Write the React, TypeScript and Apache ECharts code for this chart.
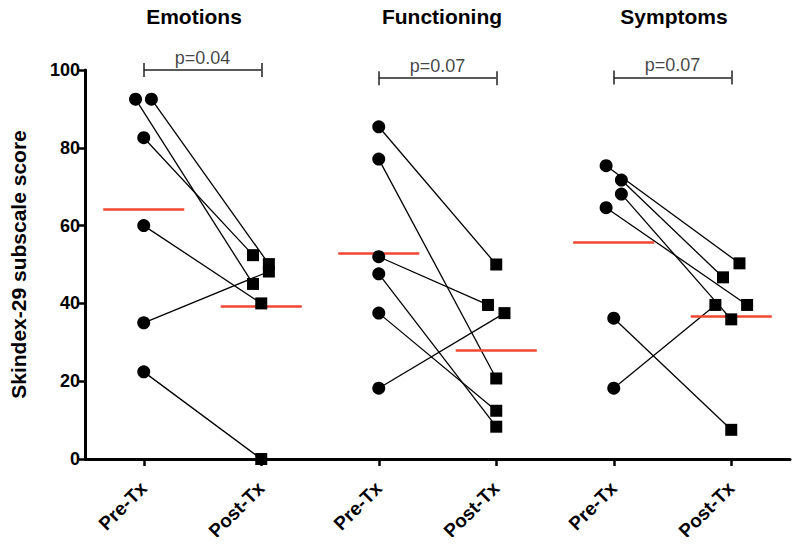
import React, { useEffect, useRef } from "react";
import * as echarts from "echarts";

const FONT = "'Liberation Sans', Arial, Helvetica, sans-serif";

const categories = ["Pre-Tx", "Post-Tx"];
const panelTitles = ["Emotions", "Functioning", "Symptoms"];
const pValues = ["p=0.04", "p=0.07", "p=0.07"];
const bracketLevels = [100, 97.9, 98.1];

// Emotions
const emotionsPre = [92.5, 92.5, 82.6, 60.0, 35.0, 22.4];
const emotionsPost = [45.0, 50.1, 52.4, 40.0, 48.2, 0.0];
const emotionsPreJitter = [-0.07, 0.065, 0, 0, 0, 0];
const emotionsPostJitter = [-0.07, 0.065, -0.07, 0, 0.065, 0];

// Functioning
const functioningPre = [85.4, 77.1, 52.0, 47.6, 37.5, 18.2];
const functioningPost = [50.0, 20.7, 39.6, 8.3, 12.4, 37.5];
const functioningPreJitter = [0, 0, 0, 0, 0, 0];
const functioningPostJitter = [0, 0, -0.07, 0, 0, 0.07];

// Symptoms
const symptomsPre = [75.4, 71.7, 68.1, 64.6, 36.2, 18.2];
const symptomsPost = [50.3, 46.7, 35.9, 39.6, 7.5, 39.6];
const symptomsPreJitter = [-0.065, 0.065, 0.065, -0.065, 0, 0];
const symptomsPostJitter = [0.07, -0.07, 0, 0.135, 0, -0.135];

const panels = [
  { pre: emotionsPre, post: emotionsPost, preJ: emotionsPreJitter, postJ: emotionsPostJitter },
  { pre: functioningPre, post: functioningPost, preJ: functioningPreJitter, postJ: functioningPostJitter },
  { pre: symptomsPre, post: symptomsPost, preJ: symptomsPreJitter, postJ: symptomsPostJitter },
];

const mean = (a: number[]) => a.reduce((s, v) => s + v, 0) / a.length;

export default function App() {
  const ref = useRef<HTMLDivElement>(null);

  useEffect(() => {
    if (!ref.current) return;
    const chart = echarts.init(ref.current, null, { renderer: "svg" });

    const pairSegments: any[] = [];
    const preDots: number[][] = [];
    const postDots: number[][] = [];
    const meanSegments: any[] = [];
    const bracketSegments: any[] = [];
    const pLabelData: any[] = [];
    const halfMean = 0.345;
    const capH = 1.8;

    panels.forEach((p, i) => {
      const xPre = 2 * i;
      const xPost = 2 * i + 1;
      p.pre.forEach((v, k) => {
        const a = [xPre + p.preJ[k], v];
        const b = [xPost + p.postJ[k], p.post[k]];
        pairSegments.push({ coords: [a, b] });
        preDots.push(a);
        postDots.push(b);
      });
      const mPre = mean(p.pre);
      const mPost = mean(p.post);
      meanSegments.push({ coords: [[xPre - halfMean, mPre], [xPre + halfMean, mPre]] });
      meanSegments.push({ coords: [[xPost - halfMean, mPost], [xPost + halfMean, mPost]] });
      const lvl = bracketLevels[i];
      bracketSegments.push({ coords: [[xPre, lvl], [xPost, lvl]] });
      bracketSegments.push({ coords: [[xPre, lvl - capH], [xPre, lvl + capH]] });
      bracketSegments.push({ coords: [[xPost, lvl - capH], [xPost, lvl + capH]] });
      pLabelData.push({ value: [(xPre + xPost) / 2, lvl], name: pValues[i] });
    });

    const ticks = [0, 1, 2, 3, 4, 5];

    const option: any = {
      animation: false,
      textStyle: { fontFamily: FONT },
      grid: { left: 83, right: 10, top: 70, bottom: 86, containLabel: false },
      xAxis: {
        type: "value",
        min: -0.5,
        max: 5.5,
        splitLine: { show: false },
        axisLine: { show: true, onZero: false, lineStyle: { color: "#000", width: 3 } },
        axisTick: { show: true, customValues: ticks, length: 7, lineStyle: { color: "#000", width: 2.5 } },
        axisLabel: {
          show: true,
          customValues: ticks,
          formatter: (v: number) => categories[Math.round(v) % 2],
          rotate: 45,
          margin: 26,
          fontSize: 19,
          fontWeight: "bold",
          color: "#000",
          fontFamily: FONT,
        },
      },
      yAxis: {
        type: "value",
        min: 0,
        max: 100,
        interval: 20,
        splitLine: { show: false },
        axisLine: { show: true, onZero: false, lineStyle: { color: "#000", width: 3 } },
        axisTick: { show: true, length: 7, lineStyle: { color: "#000", width: 2.5 } },
        axisLabel: { fontSize: 18, fontWeight: "bold", color: "#000", margin: 5, fontFamily: FONT },
        name: "Skindex-29 subscale score",
        nameLocation: "middle",
        nameGap: 56,
        nameTextStyle: { fontSize: 21, fontWeight: "bold", color: "#000", fontFamily: FONT },
      },
      graphic: panelTitles.map((t, i) => ({
        type: "text",
        x: [194, 442, 674][i],
        y: 16,
        style: {
          text: t,
          textAlign: "center",
          textVerticalAlign: "middle",
          fontSize: 21,
          fontWeight: "bold",
          fontFamily: FONT,
          fill: "#000",
        },
      })),
      series: [
        {
          type: "lines",
          coordinateSystem: "cartesian2d",
          clip: false,
          data: pairSegments,
          lineStyle: { color: "#000", width: 1.3, opacity: 1 },
          z: 2,
          silent: true,
        },
        {
          type: "lines",
          coordinateSystem: "cartesian2d",
          clip: false,
          data: meanSegments,
          lineStyle: { color: "#f04632", width: 2.5, opacity: 1 },
          z: 3,
          silent: true,
        },
        {
          type: "lines",
          coordinateSystem: "cartesian2d",
          clip: false,
          data: bracketSegments,
          lineStyle: { color: "#222", width: 1.5, opacity: 1 },
          z: 3,
          silent: true,
        },
        {
          type: "scatter",
          data: preDots,
          symbol: "circle",
          symbolSize: 13,
          itemStyle: { color: "#000", opacity: 1 },
          z: 4,
        },
        {
          type: "scatter",
          data: postDots,
          symbol: "rect",
          symbolSize: 12,
          itemStyle: { color: "#000", opacity: 1 },
          clip: false,
          z: 4,
        },
        {
          type: "scatter",
          data: pLabelData,
          symbolSize: 0,
          clip: false,
          silent: true,
          label: {
            show: true,
            position: "top",
            distance: 3,
            formatter: (p: any) => p.name,
            fontSize: 18,
            color: "#111",
            fontFamily: FONT,
          },
          z: 5,
        },
      ],
    };

    chart.setOption(option);
    return () => chart.dispose();
  }, []);

  return <div ref={ref} style={{ width: 800, height: 545, margin: -8 }} />;
}
